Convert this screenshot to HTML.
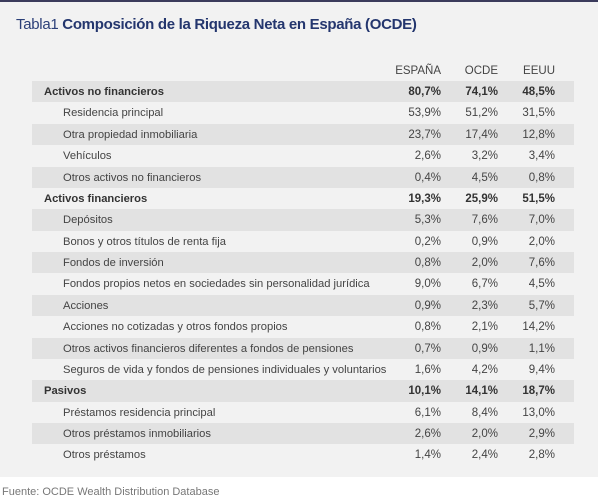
<!DOCTYPE html>
<html><head><meta charset="utf-8"><style>
body{margin:0;width:606px;height:498px;background:#fff;font-family:"Liberation Sans",sans-serif;position:relative;overflow:hidden}
#panel{position:absolute;left:0;top:0;width:598px;height:477px;background:#f2f2f2;border-top:2px solid #3b3b5c;box-sizing:border-box}
#title{position:absolute;left:16px;top:16px;font-size:15px;color:#2b3f78;letter-spacing:-0.3px}
#title b{color:#24366e}
.hdr{position:absolute;top:65px;font-size:11.5px;color:#444;text-align:right;width:60px}
.row{position:absolute;left:32px;width:542px;height:21.4px;font-size:11.2px;color:#444}
.row.s{background:#e2e2e2}
.row span{position:absolute;top:5px}
.row .v{text-align:right;width:60px;font-size:11.5px}
.row.b{font-weight:bold;color:#333}
#src{position:absolute;left:2px;top:486px;font-size:11px;color:#777}
</style></head><body>
<div id="panel"></div>
<div id="title">Tabla1 <b>Composición de la Riqueza Neta en España (OCDE)</b></div>
<div class="hdr" style="left:381px">ESPAÑA</div>
<div class="hdr" style="left:438px">OCDE</div>
<div class="hdr" style="left:495px">EEUU</div>
<div id="rows"></div>
<div id="src">Fuente: OCDE Wealth Distribution Database</div>
<script>
const labels=["Activos no financieros","Residencia principal","Otra propiedad inmobiliaria","Vehículos","Otros activos no financieros","Activos financieros","Depósitos","Bonos y otros títulos de renta fija","Fondos de inversión","Fondos propios netos en sociedades sin personalidad jurídica","Acciones","Acciones no cotizadas y otros fondos propios","Otros activos financieros diferentes a fondos de pensiones","Seguros de vida y fondos de pensiones individuales y voluntarios","Pasivos","Préstamos residencia principal","Otros préstamos inmobiliarios","Otros préstamos"];
const bold=[1,0,0,0,0,1,0,0,0,0,0,0,0,0,1,0,0,0];
const espana=["80,7%","53,9%","23,7%","2,6%","0,4%","19,3%","5,3%","0,2%","0,8%","9,0%","0,9%","0,8%","0,7%","1,6%","10,1%","6,1%","2,6%","1,4%"];
const ocde=["74,1%","51,2%","17,4%","3,2%","4,5%","25,9%","7,6%","0,9%","2,0%","6,7%","2,3%","2,1%","0,9%","4,2%","14,1%","8,4%","2,0%","2,4%"];
const eeuu=["48,5%","31,5%","12,8%","3,4%","0,8%","51,5%","7,0%","2,0%","7,6%","4,5%","5,7%","14,2%","1,1%","9,4%","18,7%","13,0%","2,9%","2,8%"];
const c=document.getElementById('rows');
labels.forEach((l,i)=>{
 const r=document.createElement('div');
 r.className='row'+(i%2==0?' s':'')+(bold[i]?' b':'');
 r.style.top=(81+i*21.38)+'px';
 
 
 const a=document.createElement('span');a.style.left=(bold[i]?12:31)+'px';a.textContent=l;
 
 
 r.appendChild(a);
 [[espana,349],[ocde,406],[eeuu,463]].forEach(([arr,x])=>{
  const s=document.createElement('span');s.className='v';s.style.left=x+'px';s.textContent=arr[i];
  
  
  r.appendChild(s);
 });
 c.appendChild(r);
});
</script>
</body></html>
